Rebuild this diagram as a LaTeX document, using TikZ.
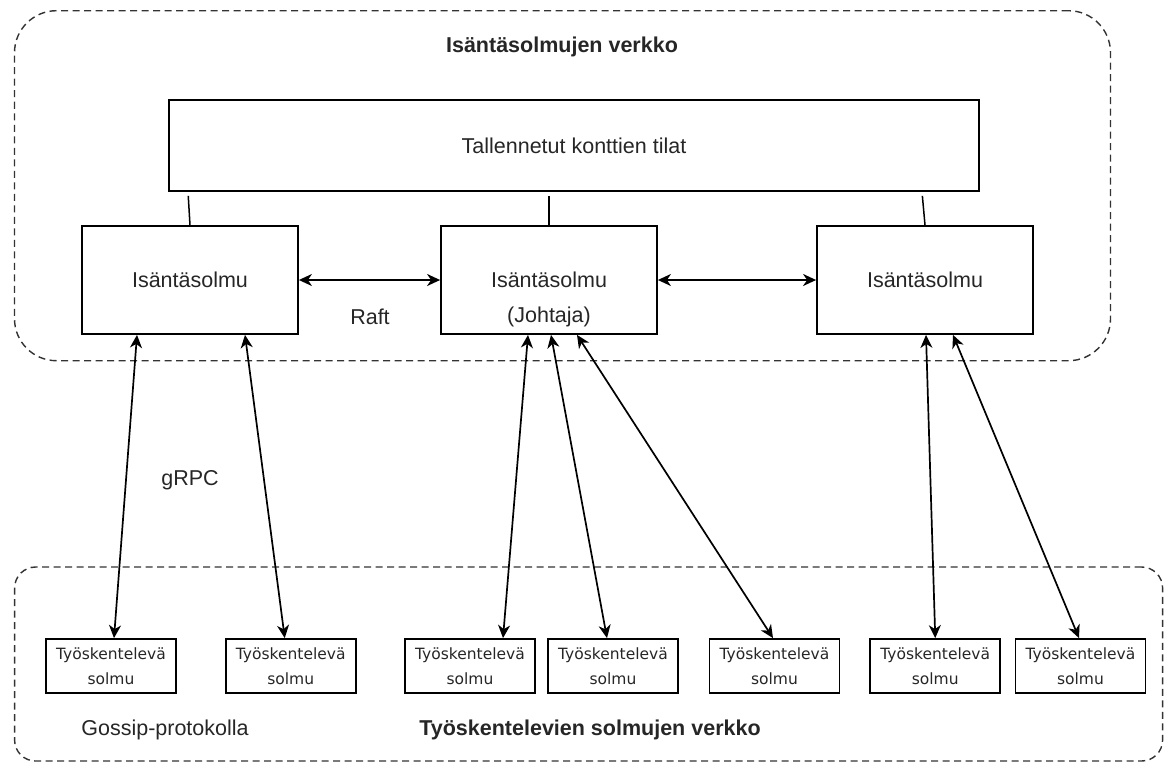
\documentclass[tikz,border=0pt]{standalone}
\usepackage{fontspec}
\setmainfont{Liberation Sans}
\newfontfamily\workerfont{DejaVu Sans}
\usetikzlibrary{arrows.meta,calc}

\begin{document}
\begin{tikzpicture}[x=1pt,y=-1pt,
  >={Stealth[length=13pt,width=12pt,inset=4pt]},
  lbl/.style={text=black!85,inner sep=0pt,font=\fontsize{21.5}{26}\selectfont},
  title/.style={lbl,font=\bfseries\fontsize{21.5}{26}\selectfont},
  group/.style={draw=black!80,line width=1.4pt,dash pattern=on 7pt off 4.5pt,
                rectangle,inner sep=0pt},
  storebox/.style={draw,line width=1.8pt,rectangle,inner sep=0pt,
                   minimum width=810pt,minimum height=91pt,lbl},
  masterbox/.style={draw,line width=1.8pt,rectangle,inner sep=0pt,
                    minimum width=216pt,minimum height=108pt,lbl},
  workerbox/.style={draw,line width=1.8pt,rectangle,inner sep=0pt,
                    minimum width=130pt,minimum height=54pt,align=center,
                    text=black!85,font=\workerfont\fontsize{15.5}{25}\selectfont},
  link/.style={line width=1.5pt},
  biarrow/.style={line width=1.7pt,<->}
]
\useasboundingbox (0,0) rectangle (1166,764);

% network groups
\node[group,rounded corners=42pt,minimum width=1096pt,minimum height=350pt]
  (masternet) at (562.5,185.7) {};
\node[group,rounded corners=21pt,minimum width=1148pt,minimum height=194pt]
  (workernet) at (588.6,664) {};

\node[title] (mastertitle) at (562,47) {Isäntäsolmujen verkko};
\node[title] (workertitle) at (590,730) {Työskentelevien solmujen verkko};
\node[lbl] (gossip) at (165,730) {Gossip-protokolla};
\node[lbl] (grpc) at (190,480) {gRPC};
\node[lbl] (raft) at (370,317) {Raft};

% shared state store
\node[storebox] (store) at (574,145.5) {Tallennetut konttien tilat};

% master nodes
\node[masterbox] (m1) at (190,280) {Isäntäsolmu};
\node[masterbox] (m2) at (549,280) {Isäntäsolmu};
\node[lbl] (leader) at (549,317) {(Johtaja)};
\node[masterbox] (m3) at (925,280) {Isäntäsolmu};

% worker nodes
\node[workerbox] (w1) at (111,666) {Työskentelevä\\solmu};
\node[workerbox] (w2) at (290.75,666) {Työskentelevä\\solmu};
\node[workerbox] (w3) at (470,666) {Työskentelevä\\solmu};
\node[workerbox] (w4) at (613,666) {Työskentelevä\\solmu};
\node[workerbox] (w5) at (774.5,666) {Työskentelevä\\solmu};
\node[workerbox] (w6) at (935.25,666) {Työskentelevä\\solmu};
\node[workerbox] (w7) at (1080.5,666) {Työskentelevä\\solmu};

% store to masters
\draw[link,shorten <=4pt] ([xshift=-2pt]store.south -| m1.north) -- (m1.north);
\draw[link,shorten <=4pt] (store.south -| m2.north) -- (m2.north);
\draw[link,shorten <=4pt] ([xshift=-3pt]store.south -| m3.north) -- (m3.north);

% Raft between masters
\draw[biarrow] (m1.east) -- (m2.west);
\draw[biarrow] (m2.east) -- (m3.west);

% gRPC between masters and workers
\draw[biarrow] ([xshift=-53pt]m1.south) -- ([xshift=3pt]w1.north);
\draw[biarrow] ([xshift=55pt]m1.south) -- ([xshift=-6pt]w2.north);
\draw[biarrow] ([xshift=-21pt]m2.south) -- ([xshift=33pt]w3.north);
\draw[biarrow] ([xshift=2pt]m2.south) -- ([xshift=-6pt]w4.north);
\draw[biarrow] ([xshift=28pt]m2.south) -- ([xshift=-1.5pt]w5.north);
\draw[biarrow] ([xshift=1pt]m3.south) -- (w6.north);
\draw[biarrow] ([xshift=28pt]m3.south) -- ([xshift=-1.5pt]w7.north);
\end{tikzpicture}
\end{document}
